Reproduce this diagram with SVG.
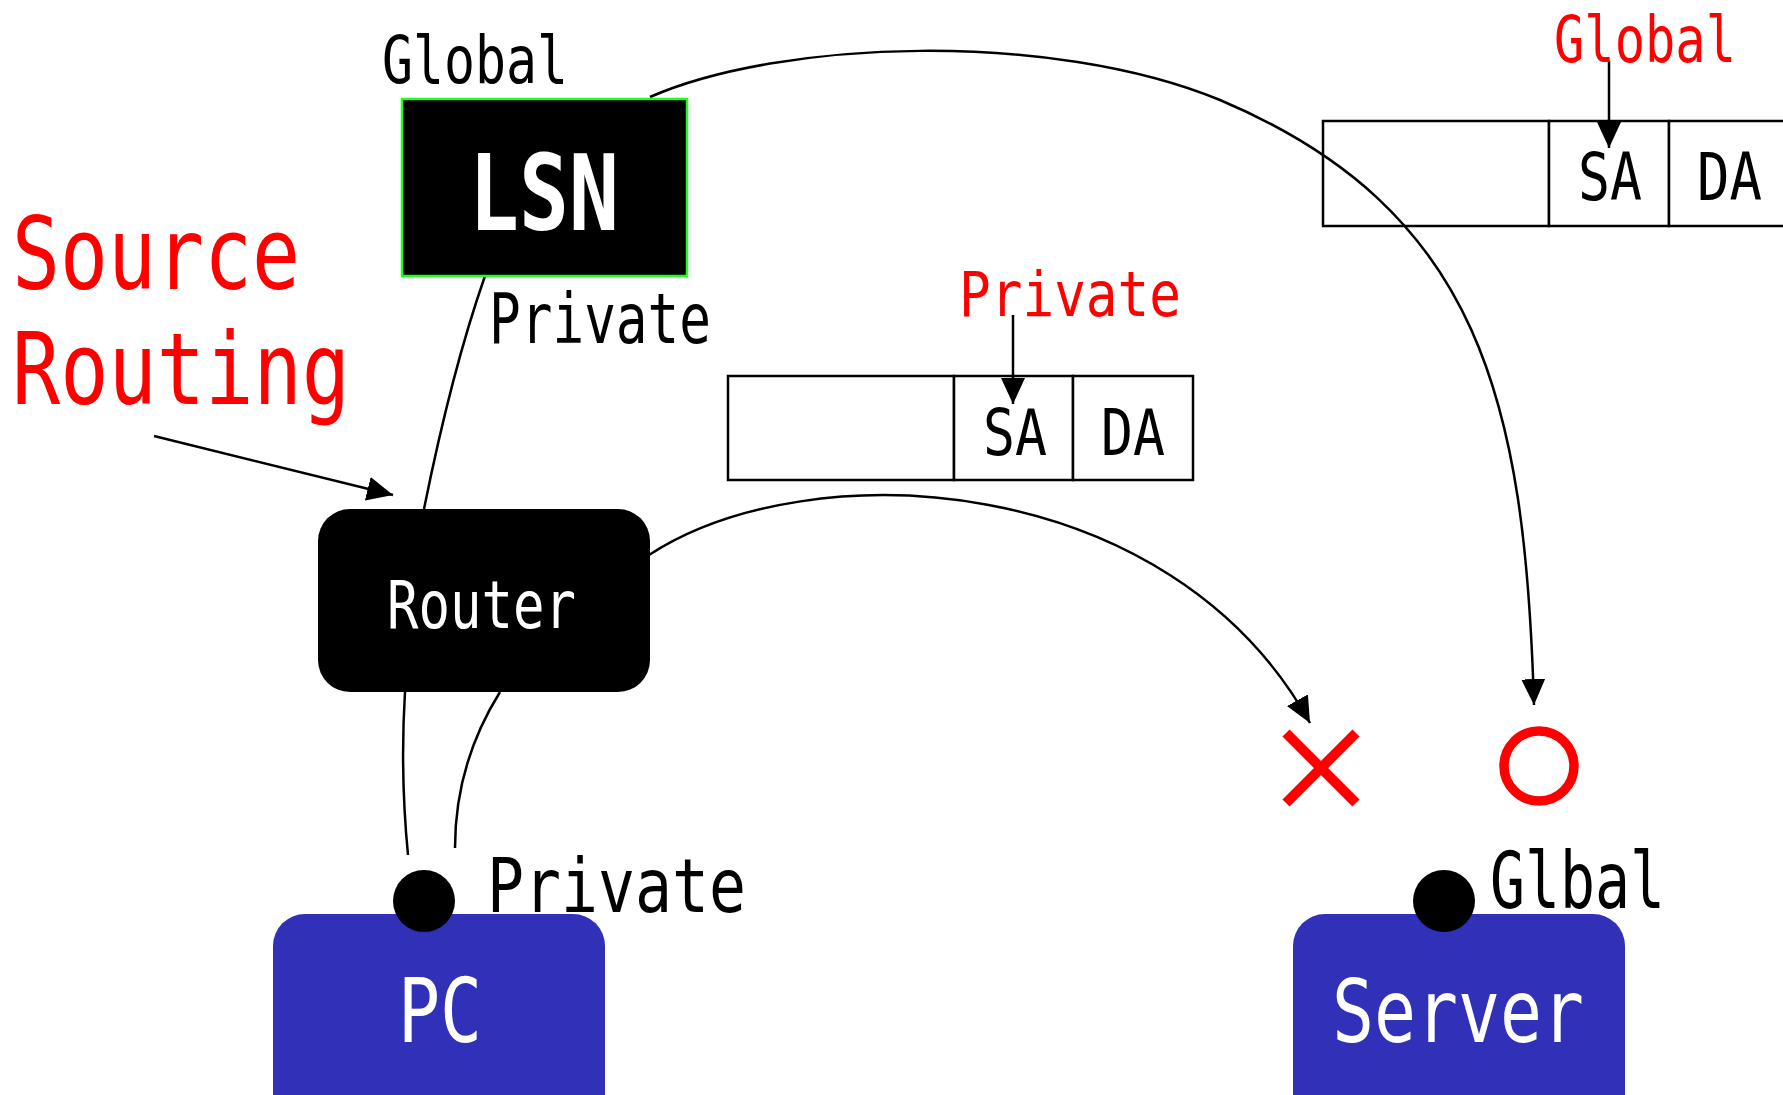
<svg xmlns="http://www.w3.org/2000/svg" width="1783" height="1095" viewBox="0 0 1783 1095">
<style>
  text { font-family: "DejaVu Sans Mono", "Liberation Mono", monospace; }
  .blk { fill: #000; }
  .red { fill: #ff0000; }
  .wht { fill: #fff; }
  .conn { fill: none; stroke: #000; stroke-width: 2.5; }
  .cell { fill: #fff; stroke: #000; stroke-width: 2.5; }
  .blue { fill: #3030b9; }
</style>
<defs>
  <marker id="arr" markerUnits="userSpaceOnUse" markerWidth="28" markerHeight="26" refX="26" refY="12" orient="auto">
    <path d="M0,0 L26,12 L0,24 Z" fill="#000"/>
  </marker>
</defs>
<rect width="1783" height="1095" fill="#fff"/>

<g id="packet-private">
  <rect class="cell" x="728" y="376" width="226" height="104"/>
  <rect class="cell" x="954" y="376" width="119" height="104"/>
  <rect class="cell" x="1073" y="376" width="120" height="104"/>
  <text class="blk" x="983" y="455" font-size="64" textLength="64" lengthAdjust="spacingAndGlyphs">SA</text>
  <text class="blk" x="1101" y="455" font-size="64" textLength="64" lengthAdjust="spacingAndGlyphs">DA</text>
</g>
<g id="packet-global">
  <rect class="cell" x="1323" y="121" width="226" height="105"/>
  <rect class="cell" x="1549" y="121" width="120" height="105"/>
  <rect class="cell" x="1669" y="121" width="130" height="105"/>
  <text class="blk" x="1578" y="200" font-size="65" textLength="64" lengthAdjust="spacingAndGlyphs">SA</text>
  <text class="blk" x="1697" y="200" font-size="65" textLength="65" lengthAdjust="spacingAndGlyphs">DA</text>
</g>

<g id="connectors">
  <path class="conn" d="M650,97 C780,40 1050,30 1220,100 C1480,210 1525,400 1534,705" marker-end="url(#arr)"/>
  <path class="conn" d="M649,555 C810,450 1170,470 1310,723" marker-end="url(#arr)"/>
  <path class="conn" d="M485,276 Q452,370 424,509"/>
  <path class="conn" d="M405,692 Q400,773 408,855"/>
  <path class="conn" d="M500,692 C470,740 455,790 455,848"/>
  <path class="conn" d="M154,436 L393,495" marker-end="url(#arr)"/>
  <path class="conn" d="M1609,61 L1609,148" marker-end="url(#arr)"/>
  <path class="conn" d="M1013,315 L1013,404" marker-end="url(#arr)"/>
</g>

<g id="lsn">
  <rect x="402" y="99" width="285" height="177" fill="#000" stroke="#1eff1e" stroke-width="2.5"/>
  <text class="wht" x="544" y="230" font-size="106" font-weight="bold" text-anchor="middle" textLength="150" lengthAdjust="spacingAndGlyphs">LSN</text>
</g>
<g id="router">
  <rect x="318" y="509" width="332" height="183" rx="32" ry="32" fill="#000"/>
  <text class="wht" x="387" y="628" font-size="66" textLength="189" lengthAdjust="spacingAndGlyphs">Router</text>
</g>
<g id="pc">
  <rect class="blue" x="273" y="914" width="332" height="220" rx="32" ry="32"/>
  <circle cx="424" cy="901" r="31" fill="#000"/>
  <text class="wht" x="398" y="1042" font-size="89" textLength="84" lengthAdjust="spacingAndGlyphs">PC</text>
</g>
<g id="server">
  <rect class="blue" x="1293" y="914" width="332" height="220" rx="32" ry="32"/>
  <circle cx="1444" cy="901" r="31" fill="#000"/>
  <text class="wht" x="1332" y="1042" font-size="88" textLength="252" lengthAdjust="spacingAndGlyphs">Server</text>
</g>

<g id="labels">
  <text class="blk" x="382" y="83" font-size="66" textLength="186" lengthAdjust="spacingAndGlyphs">Global</text>
  <text class="blk" x="489" y="343" font-size="69" textLength="222" lengthAdjust="spacingAndGlyphs">Private</text>
  <text class="red" x="1554" y="62" font-size="64" textLength="182" lengthAdjust="spacingAndGlyphs">Global</text>
  <text class="red" x="959" y="316" font-size="63" textLength="222" lengthAdjust="spacingAndGlyphs">Private</text>
  <text class="red" x="12" y="289" font-size="99" textLength="288" lengthAdjust="spacingAndGlyphs">Source</text>
  <text class="red" x="12" y="404" font-size="99" textLength="338" lengthAdjust="spacingAndGlyphs">Routing</text>
  <text class="blk" x="487" y="912" font-size="75" textLength="259" lengthAdjust="spacingAndGlyphs">Private</text>
  <text class="blk" x="1490" y="908" font-size="78" textLength="175" lengthAdjust="spacingAndGlyphs">Glbal</text>
</g>

<g id="marks">
  <path d="M1286,733 L1356,803 M1356,733 L1286,803" stroke="#ff0000" stroke-width="10" fill="none"/>
  <circle cx="1539" cy="766" r="35" fill="none" stroke="#ff0000" stroke-width="9.5"/>
</g>
</svg>
